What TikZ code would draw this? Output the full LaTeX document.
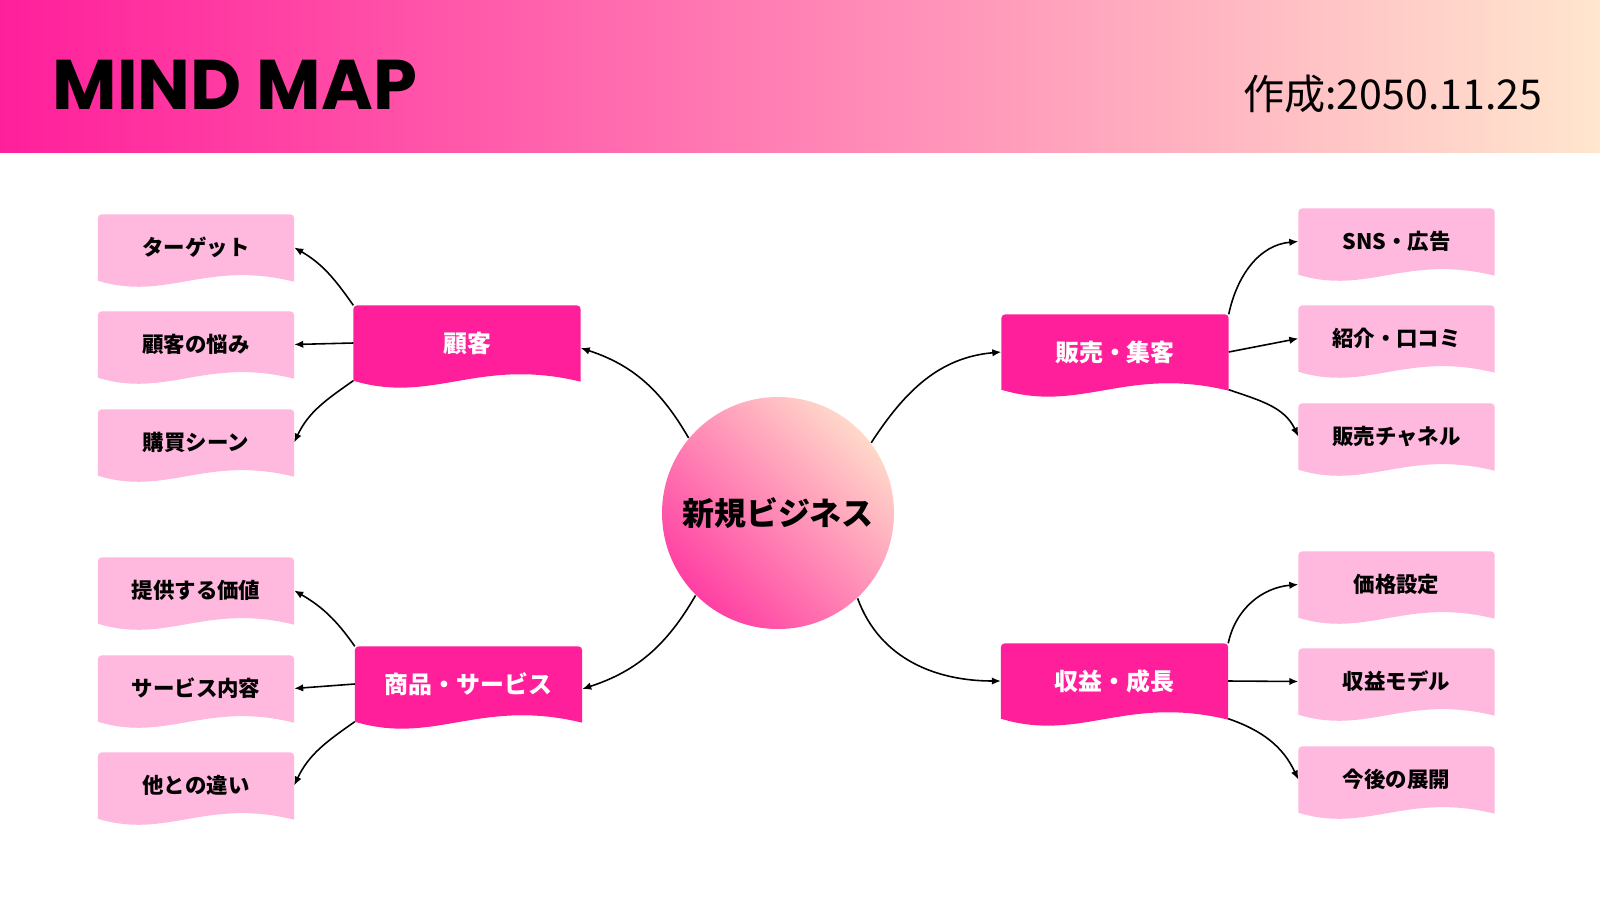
\documentclass[tikz,border=0pt]{standalone}
\usepackage{fontspec}
\setmainfont{Noto Sans CJK JP}
\newfontfamily\titlefont{Poppins}
\usetikzlibrary{arrows.meta,backgrounds,calc}
\definecolor{hotpink}{HTML}{FF1F9B}
\definecolor{softpink}{HTML}{FFB8DE}
\definecolor{peach}{HTML}{FFE6CE}
\definecolor{midpink}{HTML}{FF7DB3}
\definecolor{corepink}{HTML}{FF3FA3}
\definecolor{corepeach}{HTML}{FFD8C9}
\newcommand{\wavefill}[3]{%
  \fill[#2] (#1.south west) [rounded corners=0.4mm] -- (#1.north west) -- (#1.north east) [sharp corners] -- ($(#1.south east)+(0,-0.01)$)
    .. controls ($(#1.south west)!0.55!(#1.south east)+(0,#3)$) and ($(#1.south west)!0.35!(#1.south east)+(0,-#3)$) .. (#1.south west) -- cycle;}

\begin{document}
\begin{tikzpicture}
    [leaf/.style={rectangle, minimum width=1.95cm, minimum height=0.65cm, inner sep=0pt, font=\bfseries\fontsize{6.1}{7}\selectfont},
     branch/.style={rectangle, minimum width=2.26cm, minimum height=0.74cm, inner sep=0pt, text=white, font=\bfseries\fontsize{6.8}{8}\selectfont},
     hub/.style={circle, minimum size=2.32cm, inner sep=0pt, left color=corepink, right color=corepeach, shading angle=135, font=\bfseries\fontsize{9.1}{11}\selectfont},
     link/.style={line width=0.45pt, -{Latex[length=0.9mm, width=0.75mm]}}]
    \useasboundingbox (0,0) rectangle (16,9);
    \begin{scope}[on background layer]
        \fill[white] (0,0) rectangle (16,9);
        \shade[left color=hotpink, middle color=midpink, right color=peach] (0,7.47) rectangle (16,9);
    \end{scope}
    \node[anchor=base west, inner sep=0pt, font=\titlefont\bfseries\fontsize{20}{24}\selectfont] (title) at (0.52,7.90) {MIND MAP};
    \node[anchor=base east, inner sep=0pt, font=\fontsize{11.7}{14}\selectfont] (date) at (15.43,7.90) {作成:2050.11.25};

    \node[hub] (core) at (7.78,3.87) {新規ビジネス};

    \node[branch] (kokyaku) at (4.67,5.57) {顧客};
    \node[branch] (shohin) at (4.685,2.16) {商品・サービス};
    \node[branch] (hanbai) at (11.15,5.48) {販売・集客};
    \node[branch] (shueki) at (11.145,2.19) {収益・成長};

    \node[leaf] (target) at (1.96,6.525) {ターゲット};
    \node[leaf] (nayami) at (1.96,5.555) {顧客の悩み};
    \node[leaf] (scene) at (1.96,4.575) {購買シーン};
    \node[leaf] (kachi) at (1.96,3.095) {提供する価値};
    \node[leaf] (naiyo) at (1.96,2.115) {サービス内容};
    \node[leaf] (chigai) at (1.96,1.145) {他との違い};
    \node[leaf] (sns) at (13.965,6.585) {SNS・広告};
    \node[leaf] (shokai) at (13.965,5.615) {紹介・口コミ};
    \node[leaf] (channel) at (13.965,4.635) {販売チャネル};
    \node[leaf] (kakaku) at (13.965,3.155) {価格設定};
    \node[leaf] (model) at (13.965,2.185) {収益モデル};
    \node[leaf] (tenkai) at (13.965,1.205) {今後の展開};

    \begin{scope}[on background layer]
        \foreach \n in {kokyaku, shohin, hanbai, shueki} {\wavefill{\n}{hotpink}{0.24}}
        \foreach \n in {target, nayami, scene, kachi, naiyo, chigai, sns, shokai, channel, kakaku, model, tenkai} {\wavefill{\n}{softpink}{0.21}}
    \end{scope}

    \draw[link] (core.140) to[out=120, in=-18] ([yshift=-0.5mm]kokyaku.east);
    \draw[link] (core.225) to[out=240, in=18] ([yshift=-0.5mm]shohin.east);
    \draw[link] (core.37) to[out=57, in=185] (hanbai.west);
    \draw[link] (core.-47) to[out=-70, in=180] (shueki.west);

    \draw[link] (kokyaku.north west) to[out=125, in=-30] (target.east);
    \draw[link] (kokyaku.west) -- (nayami.east);
    \draw[link] (kokyaku.south west) to[out=215, in=65] (scene.east);
    \draw[link] (shohin.north west) to[out=125, in=-30] (kachi.east);
    \draw[link] (shohin.west) -- (naiyo.east);
    \draw[link] (shohin.south west) to[out=215, in=65] (chigai.east);

    \draw[link] (hanbai.north east) to[out=78, in=185] (sns.west);
    \draw[link] (hanbai.east) -- (shokai.west);
    \draw[link] (hanbai.south east) to[out=-19, in=115] (channel.west);
    \draw[link] (shueki.north east) to[out=78, in=185] (kakaku.west);
    \draw[link] (shueki.east) -- (model.west);
    \draw[link] (shueki.south east) to[out=-19, in=115] (tenkai.west);
\end{tikzpicture}
\end{document}
